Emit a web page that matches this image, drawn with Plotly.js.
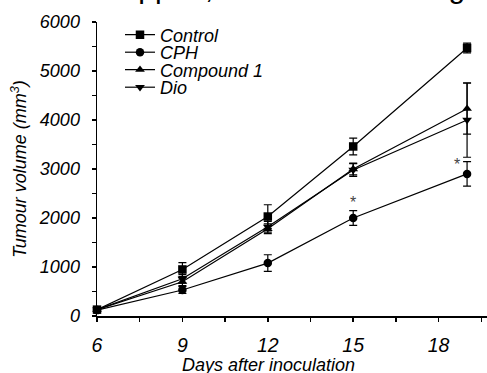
<!DOCTYPE html>
<html>
<head>
<meta charset="utf-8">
<script src="https://cdn.plot.ly/plotly-3.0.1.min.js"></script>
<style>html,body{margin:0;padding:0;background:#fff;}#chart{width:487px;height:373px;}</style>
</head>
<body>
<div id="chart"></div>
<script>
const days = [6, 9, 12, 15, 19];
const seriesNames = ["Control", "CPH", "Compound 1", "Dio"];
const control = [130, 950, 2030, 3460, 5470];
const controlErr = [40, 140, 240, 170, 100];
const cph = [120, 530, 1080, 2000, 2900];
const cphErr = [30, 70, 170, 150, 250];
const compound1 = [130, 700, 1780, 3000, 4230];
const compound1Err = [30, 80, 100, 120, 520];
const dio = [130, 760, 1820, 2980, 4000];
const dioErr = [30, 90, 110, 130, 760];
const xTicks = [6, 9, 12, 15, 18];
const yTicks = [0, 1000, 2000, 3000, 4000, 5000, 6000];
const starDays = [15, 18.63];
const starValues = [2310, 3085];

const F = "Liberation Sans, Arial, sans-serif";
const symbols = ["square", "circle", "triangle-up", "triangle-down"];
const values = [control, cph, compound1, dio];
const errs = [controlErr, cphErr, compound1Err, dioErr];
const legendIds = ["legend", "legend2", "legend3", "legend4"];
const rowY = [35, 52.5, 70, 87.5];
const xRange = [6, 19.7];
const yRange = [0, 6000];

const traces = seriesNames.map((n, i) => ({
  x: days, y: values[i], name: n, type: "scatter", mode: "lines+markers",
  legend: legendIds[i],
  line: {color: "#000", width: 1.2},
  marker: {symbol: symbols[i], size: 8.5, color: "#000"},
  error_y: {type: "data", array: errs[i], visible: true, color: "#000", thickness: 1.2, width: 4},
  cliponaxis: false
}));

const layout = {
  width: 487, height: 373,
  margin: {l: 97, r: 0, t: 22, b: 57},
  paper_bgcolor: "#fff", plot_bgcolor: "#fff",
  font: {family: F, size: 18, color: "#000"},
  showlegend: true,
  xaxis: {
    range: xRange, tickvals: xTicks, ticktext: xTicks.map(String),
    showgrid: false, zeroline: false, showline: true, linecolor: "#000", linewidth: 1.5,
    ticks: "outside", ticklen: 11, tickwidth: 1.5, tickcolor: "rgba(0,0,0,0)",
    minor: {dtick: 1.5, tick0: 6, ticks: "outside", ticklen: 4, tickwidth: 1.5, tickcolor: "#000", showgrid: false},
    tickfont: {family: F, size: 19.5, style: "italic"}
  },
  xaxis2: {
    overlaying: "x", anchor: "y", side: "bottom", range: xRange, tickvals: xTicks,
    showticklabels: false, showgrid: false, zeroline: false, showline: false,
    ticks: "outside", ticklen: 7, tickwidth: 1.5, tickcolor: "#000"
  },
  yaxis: {
    range: yRange, tickvals: yTicks, ticktext: yTicks.map(String),
    showgrid: false, zeroline: false, showline: true, linecolor: "#000", linewidth: 1.5,
    ticks: "outside", ticklen: 12, tickwidth: 1.5, tickcolor: "rgba(0,0,0,0)",
    minor: {dtick: 500, ticks: "outside", ticklen: 4, tickwidth: 1.5, tickcolor: "#000", showgrid: false},
    tickfont: {family: F, size: 18, style: "italic"},
    title: {text: "Tumour volume (mm<sup>3</sup>)", font: {family: F, size: 18, style: "italic"}, standoff: 7}
  },
  yaxis2: {
    overlaying: "y", anchor: "x", side: "left", range: yRange, tickvals: yTicks,
    showticklabels: false, showgrid: false, zeroline: false, showline: false,
    ticks: "outside", ticklen: 6, tickwidth: 1.5, tickcolor: "#000"
  },
  annotations: [
    {text: "Days after inoculation", xref: "paper", yref: "paper", x: (268 - 97) / 390, y: 0, yshift: -37,
     xanchor: "center", yanchor: "top", showarrow: false, font: {family: F, size: 18, style: "italic"}},
    {text: "Tumour volume was stopped, at the ideal dosing", xref: "paper", yref: "paper",
     x: 1, xanchor: "right", xshift: -20, y: 1, yanchor: "bottom", yshift: 16, showarrow: false,
     font: {family: F, size: 30, color: "#000"}}
  ].concat(starDays.map((d, i) => ({
    text: "*", x: d, y: starValues[i], xref: "x", yref: "y", showarrow: false,
    font: {family: F, size: 16, color: "#444"}
  })))
};
legendIds.forEach((id, i) => {
  layout[id] = {x: (120 - 97) / 390, y: 1 - (rowY[i] - 22) / 294, xanchor: "left", yanchor: "middle",
    bgcolor: "rgba(0,0,0,0)", borderwidth: 0, font: {family: F, size: 18, style: "italic"}};
});

Plotly.newPlot("chart", traces, layout, {displayModeBar: false, staticPlot: true});
</script>
</body>
</html>
